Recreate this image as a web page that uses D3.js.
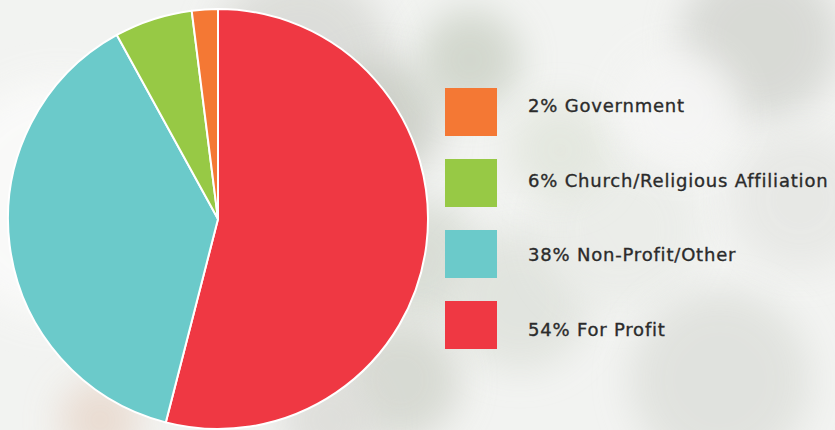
<!DOCTYPE html>
<html><head><meta charset="utf-8">
<script src="https://cdn.jsdelivr.net/npm/d3@7/dist/d3.min.js"></script>
<style>html,body{margin:0;padding:0;overflow:hidden;background:#f3f3f2}</style>
</head><body>
<svg id="c" width="835" height="430"></svg>
<script>
const categories = ["For Profit", "Non-Profit/Other", "Church/Religious Affiliation", "Government"];
const values = [54, 38, 6, 2];
const colors = ["#ef3843", "#6bcaca", "#97c945", "#f47834"];
const legendOrder = ["Government", "Church/Religious Affiliation", "Non-Profit/Other", "For Profit"];

const svg = d3.select("#c");
const defs = svg.append("defs");
const blur = defs.append("filter").attr("id","bl").attr("x","-50%").attr("y","-50%").attr("width","200%").attr("height","200%");
blur.append("feGaussianBlur").attr("stdDeviation", 18);

// blurred photo-like background
const bg = svg.append("g");
bg.append("rect").attr("width",835).attr("height",430).attr("fill","#f2f3f1");
const blobs = [
  [60,200,120,"#fbfbfa"],[300,60,90,"#d9dad6"],[380,120,60,"#c9ccc4"],
  [470,60,50,"#cdd3c8"],[420,260,60,"#d6dad2"],[520,300,70,"#dfe2dc"],
  [400,380,60,"#d3d6ce"],[620,230,80,"#eaece8"],[760,40,80,"#d4d6d1"],
  [800,200,70,"#e6e7e4"],[720,380,90,"#dee0db"],[100,420,40,"#e8d8cc"],
  [560,150,50,"#e2e6dd"],[680,110,60,"#f6f6f5"],[330,420,50,"#dcdcd8"]
];
bg.selectAll("circle").data(blobs).join("circle")
  .attr("cx",d=>d[0]).attr("cy",d=>d[1]).attr("r",d=>d[2]).attr("fill",d=>d[3])
  .attr("filter","url(#bl)").attr("opacity",0.85);

const cx = 218, cy = 219, r = 210;
const pie = d3.pie().sort(null).value(d=>d);
const arc = d3.arc().innerRadius(0).outerRadius(r);
const g = svg.append("g").attr("transform",`translate(${cx},${cy})`);
g.selectAll("path").data(pie(values)).join("path")
  .attr("d", arc)
  .attr("fill",(d,i)=>colors[i])
  .attr("stroke","#ffffff").attr("stroke-width",2).attr("stroke-linejoin","round");

// legend swatches and labels
const ySw = d3.scaleBand().domain(legendOrder).range([88, 349]).paddingInner(23/71).paddingOuter(0);
const yTx = d3.scalePoint().domain(legendOrder).range([112, 336]);
const lg = svg.append("g");
lg.selectAll("rect").data(legendOrder).join("rect")
  .attr("x",445).attr("y",d=>ySw(d)).attr("width",52).attr("height",ySw.bandwidth())
  .attr("fill", d=>colors[categories.indexOf(d)]);
lg.selectAll("text").data(legendOrder).join("text")
  .attr("x",528).attr("y",d=>yTx(d))
  .attr("font-family","'DejaVu Sans', sans-serif").attr("font-size",18)
  .attr("letter-spacing","0.8px")
  .attr("fill","#2b2b2b").attr("stroke","#2b2b2b").attr("stroke-width",0.35)
  .text(d=>values[categories.indexOf(d)] + "% " + d);
</script>
</body></html>
